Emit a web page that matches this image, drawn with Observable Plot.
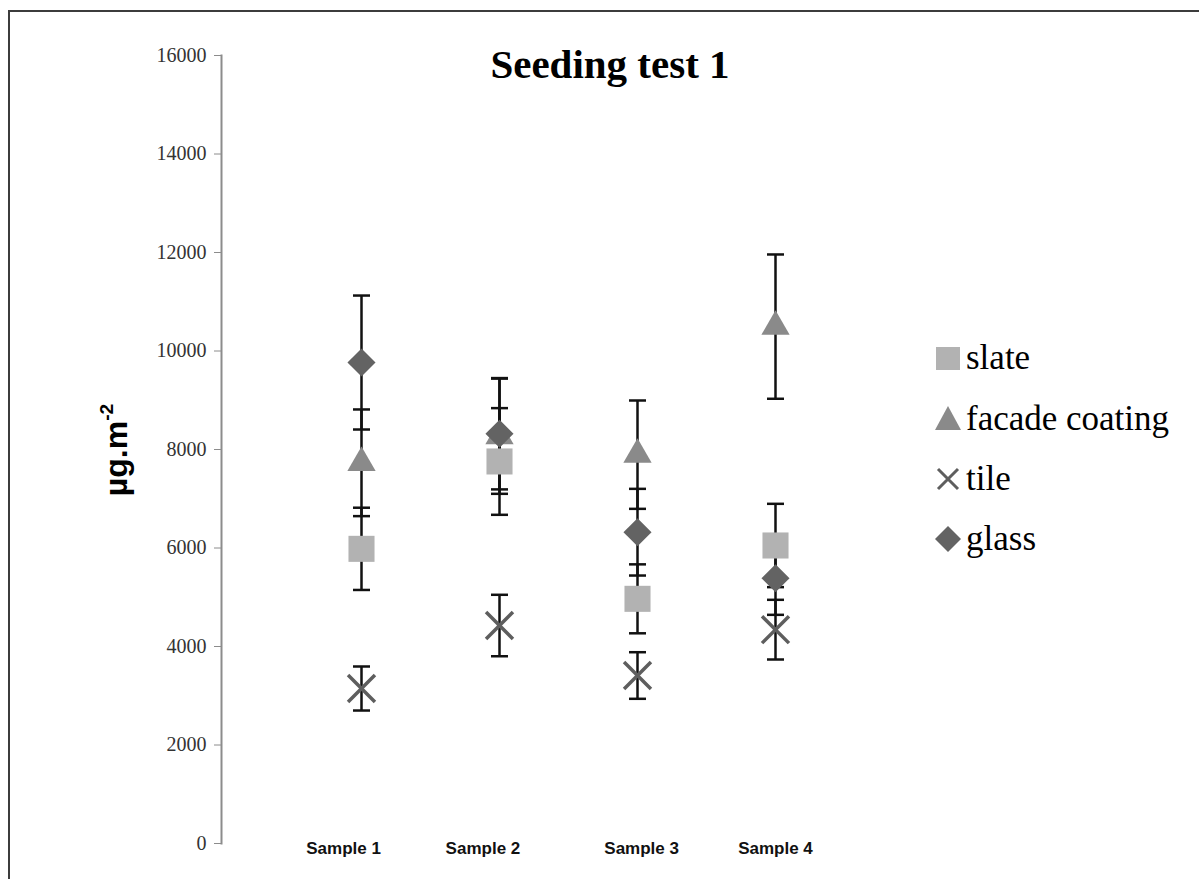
<!DOCTYPE html>
<html>
<head>
<meta charset="utf-8">
<script src="https://cdn.jsdelivr.net/npm/d3@7"></script>
<script src="https://cdn.jsdelivr.net/npm/@observablehq/plot@0.6"></script>
<style>
  html, body { margin: 0; padding: 0; background: #fff; }
  #wrap { position: relative; width: 1199px; height: 879px; overflow: hidden; }
  #border { position: absolute; left: 8px; top: 10px; right: -10px; bottom: -10px;
            border-top: 2px solid #3c3c3c; border-left: 2px solid #3c3c3c; pointer-events: none; }
  #title { position: absolute; left: 610px; top: 44px; transform: translateX(-50%);
           font: bold 41px "Liberation Serif", "Times New Roman", serif; line-height: 1; white-space: nowrap; color: #000; }
  #ylabel { position: absolute; left: 116px; top: 450px; transform: translate(-50%, -50%) rotate(-90deg);
            font: bold 32px "Liberation Sans", Arial, sans-serif; line-height: 1; white-space: nowrap; color: #000; }
  #ylabel sup { font-size: 0.6em; line-height: 0; vertical-align: 0.75em; }
  .leg { position: absolute; font: 35px "Liberation Serif", "Times New Roman", serif; line-height: 1; white-space: nowrap; color: #000; }
  .legsym { position: absolute; }
  #chart { position: absolute; left: 0; top: 0; }
</style>
</head>
<body>
<div id="wrap">
  <div id="chart"></div>
  <div id="border"></div>
  <div id="title">Seeding test 1</div>
  <div id="ylabel">µg.m<sup>-2</sup></div>
  <div id="legend"></div>
</div>
<script>
// ---- data ----
const samples = [1, 2, 3, 4];
const sampleLabels = ["Sample 1", "Sample 2", "Sample 3", "Sample 4"];
const labelX = [0.87, 1.88, 3.03, 4.0];
const seriesNames = ["slate", "facade coating", "tile", "glass"];
const slateMean  = [5983, 7757, 4968, 6051];
const slateErr   = [835, 1083, 700, 846];
const facadeMean = [7730, 8270, 7895, 10495];
const facadeErr  = [1083, 1170, 1100, 1465];
const tileMean   = [3147, 4426, 3411, 4342];
const tileErr    = [447, 624, 473, 606];
const glassMean  = [9766, 8320, 6321, 5386];
const glassErr   = [1360, 1130, 880, 743];
const yTicks = [0, 2000, 4000, 6000, 8000, 10000, 12000, 14000, 16000];

// ---- styles ----
const colors = {"slate": "#b2b2b2", "facade coating": "#8a8a8a", "tile": "#5e5e5e", "glass": "#636363"};

const means = [slateMean, facadeMean, tileMean, glassMean];
const errs = [slateErr, facadeErr, tileErr, glassErr];
const rows = [];
seriesNames.forEach((s, i) => {
  samples.forEach((x, j) => {
    rows.push({series: s, sample: x, value: means[i][j], lo: means[i][j] - errs[i][j], hi: means[i][j] + errs[i][j]});
  });
});
const bySeries = s => rows.filter(d => d.series === s);
const ends = rows.flatMap(d => [{sample: d.sample, v: d.lo}, {sample: d.sample, v: d.hi}]);
const capSymbol = {draw(ctx) { ctx.moveTo(-8.5, 0); ctx.lineTo(8.5, 0); }};
const labels = sampleLabels.map((t, i) => ({label: t, x: labelX[i]}));

const chart = Plot.plot({
  width: 1199,
  height: 879,
  marginLeft: 221,
  marginRight: 286,
  marginTop: 55,
  marginBottom: 36,
  style: {fontFamily: "'Liberation Serif', 'Times New Roman', serif", background: "transparent"},
  x: {domain: [0, 5], range: [223, 913], axis: null},
  y: {domain: [0, 16000], axis: null},
  marks: [
    Plot.frame({anchor: "left", stroke: "#8c8c8c", strokeWidth: 2}),
    Plot.axisY({ticks: yTicks, tickSize: 7, tickPadding: 8, tickFormat: d => String(d), stroke: "#8c8c8c",
                fontSize: 20, fill: "#333", label: null}),
    Plot.ruleX(rows, {x: "sample", y1: "lo", y2: "hi", stroke: "#111", strokeWidth: 2.5}),
    Plot.dot(ends, {x: "sample", y: "v", symbol: capSymbol, r: 5, stroke: "#111", strokeWidth: 2.5, fill: "none"}),
    Plot.dot(bySeries("slate"), {x: "sample", y: "value", symbol: "square", r: 14.7, fill: colors["slate"], stroke: "none"}),
    Plot.dot(bySeries("facade coating"), {x: "sample", y: "value", symbol: "triangle", r: 10.5, fill: colors["facade coating"], stroke: "none"}),
    Plot.dot(bySeries("tile"), {x: "sample", y: "value", symbol: "times", r: 12.3, stroke: colors["tile"], strokeWidth: 3.5, fill: "none"}),
    Plot.dot(bySeries("glass"), {x: "sample", y: "value", symbol: "square", rotate: 45, r: 11.2, fill: colors["glass"], stroke: "none"}),
    Plot.text(labels, {x: "x", frameAnchor: "bottom", dy: 5, text: "label", fontSize: 17, fontWeight: "bold",
                       fontFamily: "'Liberation Sans', Arial, sans-serif", fill: "#111", lineAnchor: "middle"})
  ]
});
document.getElementById("chart").appendChild(chart);

// ---- legend (HTML) ----
const legendRows = [
  {name: "slate", cy: 358, base: 369},
  {name: "facade coating", cy: 418, base: 430},
  {name: "tile", cy: 479, base: 490},
  {name: "glass", cy: 539, base: 550}
];
const leg = document.getElementById("legend");
const symSvg = {
  "slate": `<rect x="1" y="2" width="24" height="23" fill="${colors["slate"]}"/>`,
  "facade coating": `<path d="M13,1 L26,25 L0,25 Z" fill="${colors["facade coating"]}"/>`,
  "tile": `<path d="M3,3 L23,23 M23,3 L3,23" stroke="${colors["tile"]}" stroke-width="3" fill="none"/>`,
  "glass": `<path d="M13,0 L26,13 L13,26 L0,13 Z" fill="${colors["glass"]}"/>`
};
legendRows.forEach(r => {
  const s = document.createElement("div");
  s.className = "legsym";
  s.style.left = (948 - 13) + "px";
  s.style.top = (r.cy - 13) + "px";
  s.innerHTML = `<svg width="26" height="26" viewBox="0 0 26 26">${symSvg[r.name]}</svg>`;
  leg.appendChild(s);
  const t = document.createElement("div");
  t.className = "leg";
  t.style.left = "966px";
  t.style.top = (r.base - 29) + "px";
  t.textContent = r.name;
  leg.appendChild(t);
});
</script>
</body>
</html>
